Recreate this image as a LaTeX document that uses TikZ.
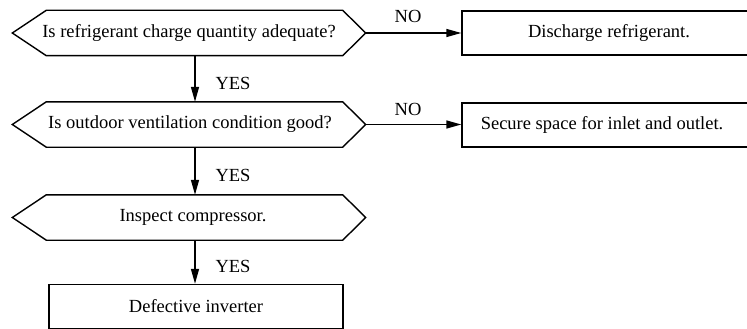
\documentclass[tikz,border=0pt]{standalone}
\usepackage{fontspec}
\setmainfont{Liberation Serif}
\usetikzlibrary{arrows.meta,calc}
\begin{document}
\begin{tikzpicture}[x=1pt,y=-1pt,
  line width=1.4pt,
  box/.style={draw=none,rectangle,minimum height=44pt,inner sep=0pt,font=\fontsize{18.5}{22}\selectfont},
  rbox/.style={draw,rectangle,minimum height=44pt,inner sep=0pt,font=\fontsize{18.5}{22}\selectfont},
  lbl/.style={font=\fontsize{18.5}{22}\selectfont,inner sep=0pt},
  arr/.style={-{Triangle[length=15pt,width=8pt]}},
  hexline/.style={line join=miter}]
\useasboundingbox (0,0) rectangle (747,329);

% hexagon bodies (invisible rectangles)
\node[box,minimum width=295pt] (h1) at (194.5,33) {};
\node[box,minimum width=295pt] (h2) at (194.5,124.5) {};
\node[box,minimum width=295pt] (h3) at (194.5,217.5) {};

% texts
\node[lbl] (t1) at (189,33) {Is refrigerant charge quantity adequate?};
\node[lbl] (t2) at (190,124.5) {Is outdoor ventilation condition good?};
\node[lbl] (t3) at (193,217.5) {Inspect compressor.};

% hexagon outlines
\foreach \h in {h1,h2,h3}{
  \draw[hexline] (\h.north west) -- (\h.north east) -- ([xshift=23pt]\h.east)
    -- (\h.south east) -- (\h.south west) -- ([xshift=-34pt]\h.west) -- cycle;
}
\coordinate (h1r) at ([xshift=23pt]h1.east);
\coordinate (h2r) at ([xshift=23pt]h2.east);

% rectangles
\node[rbox,minimum width=290pt] (r1) at (607,33) {};
\node[lbl] (rt1) at (609,33) {Discharge refrigerant.};
\node[rbox,minimum width=290pt] (r2) at (607,125) {};
\node[lbl] (rt2) at (602,125) {Secure space for inlet and outlet.};
\node[rbox,minimum width=294pt] (r4) at (196,306.5) {Defective inverter};

% connectors
\draw[arr] (h1r) -- (r1.west |- h1r);
\draw[arr] (h2r) -- (r2.west |- h2r);
\draw[arr] (h1.south -| 195,0) -- (h2.north -| 195,0);
\draw[arr] (h2.south -| 195,0) -- (h3.north -| 195,0);
\draw[arr] (h3.south -| 195,0) -- (r4.north -| 195,0);

% labels
\node[lbl] (no1) at (408,16) {NO};
\node[lbl] (no2) at (408,109) {NO};
\node[lbl] (y1) at (233,83) {YES};
\node[lbl] (y2) at (233,175) {YES};
\node[lbl] (y3) at (233,266) {YES};
\end{tikzpicture}
\end{document}
